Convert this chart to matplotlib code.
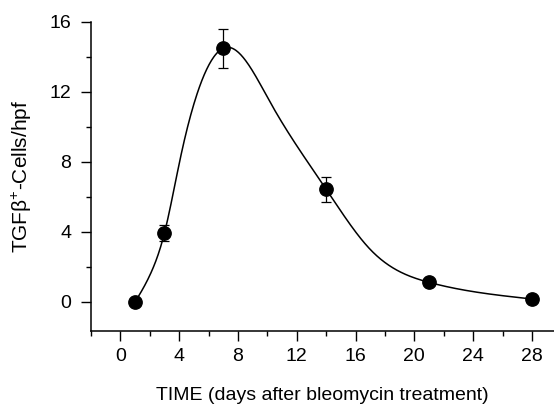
import numpy as np
import matplotlib
matplotlib.use("Agg")
import matplotlib.pyplot as plt

days = [1, 3, 7, 14, 21, 28]
cells = [0.0, 3.95, 14.5, 6.44, 1.12, 0.17]
errs = [0.0, 0.45, 1.12, 0.73, 0.0, 0.0]

# points
curve_days = [1, 2.15, 3, 4.1, 5.3, 7.2, 10.2, 14, 17, 21, 28]
curve_vals = [0.0, 1.8, 3.95, 8.3, 12.1, 14.55, 11.4, 6.44, 3.0, 1.12, 0.17]

X_TICKS = [0, 4, 8, 12, 16, 20, 24, 28]
Y_TICKS = [0, 4, 8, 12, 16]

plt.rcParams["font.family"] = ["Liberation Sans", "DejaVu Sans"]
plt.rcParams["mathtext.fontset"] = "custom"
plt.rcParams["mathtext.rm"] = "Liberation Sans"
plt.rcParams["mathtext.it"] = "Liberation Sans"


def natural_spline(x, y, xs):
    # natural cubic spline through the read curve points
    x = np.asarray(x, float)
    y = np.asarray(y, float)
    n = len(x)
    h = np.diff(x)
    A = np.zeros((n, n))
    b = np.zeros(n)
    A[0, 0] = A[-1, -1] = 1.0
    for i in range(1, n - 1):
        A[i, i - 1] = h[i - 1]
        A[i, i] = 2 * (h[i - 1] + h[i])
        A[i, i + 1] = h[i]
        b[i] = 3 * ((y[i + 1] - y[i]) / h[i] - (y[i] - y[i - 1]) / h[i - 1])
    c = np.linalg.solve(A, b)
    idx = np.clip(np.searchsorted(x, xs) - 1, 0, n - 2)
    dx = xs - x[idx]
    bi = (y[idx + 1] - y[idx]) / h[idx] - h[idx] * (2 * c[idx] + c[idx + 1]) / 3
    di = (c[idx + 1] - c[idx]) / (3 * h[idx])
    return y[idx] + bi * dx + c[idx] * dx ** 2 + di * dx ** 3


fig = plt.figure(figsize=(5.54, 4.04), dpi=100)
ax = fig.add_axes([91 / 554, 73 / 404, 463 / 554, 309 / 404])

xs = np.linspace(curve_days[0], curve_days[-1], 500)
ax.plot(xs, natural_spline(curve_days, curve_vals, xs), color="black", lw=1.1, zorder=2)
ax.errorbar(days, cells, yerr=errs, fmt="o", color="black", ms=9.6,
            ecolor="black", elinewidth=0.9, capsize=3.6, capthick=0.9, zorder=3)

ax.set_xlim(-2, 29.5)
ax.set_ylim(-1.66, 16)
ax.set_xticks(X_TICKS)
ax.set_xticks(np.arange(-2, 29, 2), minor=True)
ax.set_yticks(Y_TICKS)
ax.set_yticks(np.arange(2, 16, 4), minor=True)

for s in ("top", "right"):
    ax.spines[s].set_visible(False)
for s in ("left", "bottom"):
    ax.spines[s].set_linewidth(1.1)

ax.tick_params(which="major", length=7.2, width=1.0, labelsize=14)
ax.tick_params(axis="x", which="major", pad=5)
ax.tick_params(axis="y", which="major", pad=7)
ax.tick_params(which="minor", length=3.6, width=1.0)

ax.set_xlabel("TIME (days after bleomycin treatment)", fontsize=14, labelpad=16)
ax.set_ylabel(r"TGF$\mathrm{\beta}^{+}$-Cells/hpf", fontsize=15, labelpad=11)

fig.savefig("out.png", dpi=100)
